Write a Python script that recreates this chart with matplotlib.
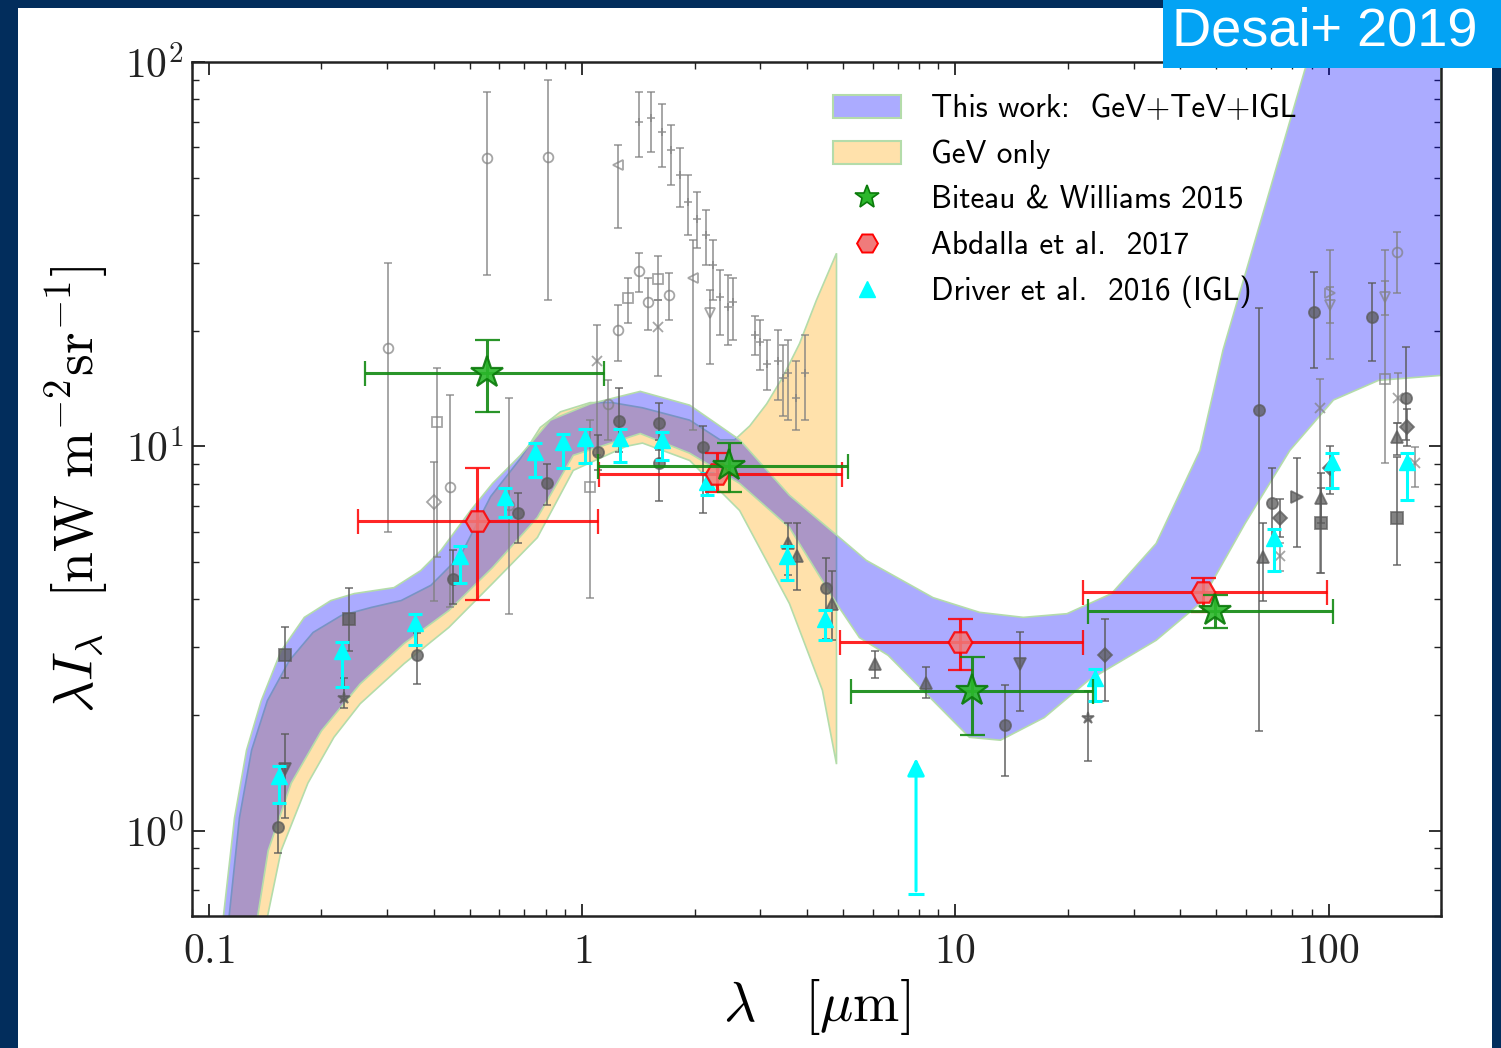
import numpy as np
import matplotlib

matplotlib.use("Agg")
import matplotlib.pyplot as plt
from matplotlib.patches import Patch, Rectangle
from matplotlib.lines import Line2D
from matplotlib.ticker import NullFormatter

plt.rcParams["mathtext.fontset"] = "cm"

# ---------------- model bands: lambda [um] vs lambda I_lambda [nW m^-2 sr^-1]
# this work (GeV+TeV+IGL), upper / lower edge
band_hi_x = [0.107, 0.117, 0.126, 0.138, 0.156, 0.180, 0.212, 0.245, 0.313, 0.369, 0.418,
             0.502, 0.575, 0.683, 0.821, 1.05, 1.43, 1.94, 2.64, 3.59, 4.89, 5.77, 8.71,
             11.6, 15.2, 19.9, 26.2, 34.5, 45.2, 52.1, 68.3, 86.3, 99.4, 200]
band_hi_y = [0.5, 1.08, 1.62, 2.18, 2.94, 3.59, 3.97, 4.14, 4.29, 4.75, 5.36,
             6.81, 8.01, 9.48, 11.7, 12.9, 13.9, 12.8, 10.4, 7.46, 5.79, 5.05, 4.04,
             3.70, 3.59, 3.67, 4.14, 5.59, 9.76, 17.8, 43.7, 95.3, 145, 1000]
band_lo_x = [0.131, 0.144, 0.166, 0.200, 0.254, 0.333, 0.439, 0.575, 0.758, 0.946, 1.43,
             1.94, 2.64, 3.59, 4.80, 5.53, 6.60, 8.71, 10.9, 13.2, 17.3, 22.7, 34.5,
             45.2, 59.7, 78.7, 103, 136, 200]
band_lo_y = [0.5, 0.888, 1.33, 1.82, 2.41, 3.07, 3.74, 4.84, 6.53, 9.48, 10.8,
             9.6, 8.01, 6.15, 3.90, 3.18, 2.86, 2.18, 1.75, 1.72, 1.97, 2.46, 3.13,
             3.90, 6.30, 9.76, 13.2, 14.85, 15.3]

# GeV only, upper / lower edge
gev_hi_x = [0.111, 0.1206, 0.130, 0.1433, 0.164, 0.190, 0.226, 0.272, 0.327, 0.393, 0.472,
            0.568, 0.683, 0.772, 0.874, 1.05, 1.20, 1.45, 1.94, 2.34, 2.56, 2.81, 3.12,
            3.44, 3.82, 4.24, 4.80]
gev_hi_y = [0.5, 1.08, 1.62, 2.18, 2.77, 3.28, 3.63, 3.81, 3.97, 4.35, 5.20,
            7.4, 9.3, 11.2, 12.3, 13.0, 13.0, 12.6, 11.7, 10.4, 10.4, 11.3, 12.9,
            15.1, 18.5, 24.0, 31.8]
gev_lo_x = [0.138, 0.156, 0.184, 0.216, 0.254, 0.333, 0.439, 0.575, 0.758, 0.946, 1.31,
            1.45, 1.94, 2.64, 3.59, 4.40, 4.80]
gev_lo_y = [0.5, 0.888, 1.33, 1.75, 2.14, 2.72, 3.38, 4.40, 5.79, 8.66, 10.0,
            10.2, 9.19, 6.81, 3.90, 2.32, 1.49]

# ---------------- Biteau & Williams 2015
bw_x = [0.554, 2.47, 11.07, 49.6]
bw_xlo = [0.262, 1.10, 5.26, 22.6]
bw_xhi = [1.145, 5.16, 23.3, 102.5]
bw_y = [15.5, 8.87, 2.31, 3.74]
bw_ylo = [12.3, 7.59, 1.77, 3.36]
bw_yhi = [18.9, 10.2, 2.83, 4.10]

# ---------------- Abdalla et al. 2017
ab_x = [0.521, 2.29, 10.3, 46.1]
ab_xlo = [0.251, 1.11, 4.89, 22.0]
ab_xhi = [1.10, 4.98, 22.0, 99.1]
ab_y = [6.38, 8.45, 3.09, 4.17]
ab_ylo = [3.99, 7.6, 2.62, 3.70]
ab_yhi = [8.76, 9.6, 3.55, 4.55]

# ---------------- Driver et al. 2016 (IGL)
dr_x = [0.154, 0.227, 0.356, 0.469, 0.619, 0.749, 0.890, 1.02, 1.26, 1.64, 2.16,
        3.53, 4.46, 23.7, 71.3, 101.9, 162.6]
dr_y = [1.39, 2.94, 3.48, 5.20, 7.37, 9.65, 10.24, 10.49, 10.49, 10.36, 8.06,
        5.20, 3.56, 2.50, 5.79, 9.08, 9.08]
dr_ylo = [1.18, 2.36, 3.05, 4.40, 6.55, 8.30, 8.81, 9.03, 9.08, 9.19, 7.46,
          4.48, 3.13, 2.18, 4.75, 7.78, 7.24]
dr_yhi = [1.47, 3.1, 3.67, 5.5, 7.8, 10.2, 10.8, 11.1, 11.1, 10.9, 8.5,
          5.5, 3.75, 2.64, 6.1, 9.6, 9.6]
# lower limit at 8 um
drlim_x = 7.84
drlim_lo = 0.686
drlim_hi = 1.57

# ---------------- other measurements (grey), open symbols
oc_x = [0.3015, 0.554, 0.811, 0.4415, 0.638, 1.248, 1.420, 1.501, 1.708, 1.174, 152.9]
oc_y = [18.0, 56.2, 56.6, 7.82, 7.02, 20.05, 28.6, 23.7, 24.7, 12.9, 32.0]
oc_lo = [5.97, 27.9, 24.0, 3.81, 3.67, 16.7, 25.2, 20.05, 21.3, 10.36, 25.0]
oc_hi = [30.0, 83.5, 89.8, 13.6, 13.4, 23.3, 31.8, 27.5, 28.2, 14.85, 36.1]

os_x = [0.407, 1.327, 1.596, 1.05, 142.0]
os_y = [11.55, 24.3, 27.2, 7.82, 15.0]
os_lo = [5.14, 21.0, 24.0, 4.02, 9.03]
os_hi = [15.97, 27.4, 31.2, 11.7, 32.4]

od_x = [0.40]
od_y = [7.15]
od_lo = [3.97]
od_hi = [9.08]

ox_x = [1.596, 1.096, 94.6, 74.0, 170.8, 153.8]
ox_y = [20.4, 16.7, 12.6, 5.20, 9.03, 13.4]
ox_lo = [15.2, 9.48, 4.67, 4.75, 7.82, 11.5]
ox_hi = [24.0, 20.7, 15.0, 5.6, 9.94, 15.5]

ol_x = [1.248, 1.979]
ol_y = [53.9, 27.5]
ol_lo = [37.0, 11.0]
ol_hi = [60.8, 34.4]

ot_x = [2.197, 100.6, 142.0]
ot_y = [22.2, 23.3, 24.4]
ot_lo = [16.4, 21.0, 22.0]
ot_hi = [25.5, 26.0, 27.0]

orr_x = [100.6]
orr_y = [25.0]
orr_lo = [16.9]
orr_hi = [32.4]

op_x = [1.420, 1.529, 1.635, 1.729, 1.827, 1.919, 2.028, 2.144, 2.238, 2.336, 2.454, 2.531,
        2.90, 2.99, 3.12, 3.34, 3.44, 3.55, 3.75, 3.94]
op_y = [69.8, 71.5, 65.7, 59.0, 50.8, 43.2, 39.0, 35.4, 29.6, 24.4, 23.0, 23.7,
        19.5, 18.7, 16.4, 16.7, 15.1, 15.5, 13.4, 15.5]
op_lo = [56.6, 58.3, 53.3, 47.8, 41.9, 35.4, 32.8, 29.6, 24.0, 19.5, 18.3, 18.9,
         17.3, 15.8, 14.0, 13.2, 12.0, 11.7, 11.0, 11.7]
op_hi = [83.5, 83.5, 77.7, 68.5, 59.7, 50.8, 45.9, 41.2, 34.4, 28.7, 27.9, 27.4,
         21.9, 21.3, 18.9, 20.05, 18.3, 18.9, 16.7, 19.5]

# ---------------- other measurements (grey), filled symbols
fc_x = [0.153, 0.360, 0.450, 0.671, 0.806, 1.103, 1.256, 1.606, 1.606, 2.104, 4.51,
        13.6, 65.0, 70.4, 91.2, 130.3, 161.5]
fc_y = [1.02, 2.86, 4.53, 6.69, 8.01, 9.65, 11.65, 11.5, 9.03, 9.94, 4.29,
        1.88, 12.4, 7.11, 22.3, 21.7, 13.4]
fc_lo = [0.876, 2.41, 3.90, 5.6, 7.02, 8.66, 9.65, 9.76, 7.23, 6.69, 3.16,
         1.39, 1.82, 5.6, 16.0, 16.7, 10.4]
fc_hi = [1.18, 3.26, 5.36, 7.54, 9.0, 10.7, 14.2, 13.0, 10.4, 11.3, 5.11,
         2.39, 22.9, 8.76, 28.4, 26.6, 18.1]

fs_x = [0.160, 0.237, 95.2, 152.9]
fs_y = [2.87, 3.56, 6.30, 6.53]
fs_lo = [2.49, 2.94, 4.67, 4.90]
fs_hi = [3.38, 4.29, 7.8, 9.36]

fv_x = [0.160, 14.9]
fv_y = [1.45, 2.72]
fv_lo = [1.08, 2.05]
fv_hi = [1.79, 3.28]

fst_x = [0.230, 22.7]
fst_y = [2.22, 1.97]
fst_lo = [2.08, 1.52]
fst_hi = [2.50, 2.31]

ft_x = [3.55, 3.77, 4.68, 6.10, 8.34, 66.6, 95.2, 152.9]
ft_y = [5.59, 5.20, 3.90, 2.72, 2.43, 5.14, 7.32, 10.55]
ft_lo = [4.62, 4.22, 3.13, 2.49, 2.22, 3.97, 6.3, 9.5]
ft_hi = [6.30, 6.30, 4.75, 2.94, 2.66, 6.30, 8.5, 11.5]

fd_x = [25.1, 74.0, 100.6, 162.6]
fd_y = [2.86, 6.53, 8.76, 11.2]
fd_lo = [2.18, 5.8, 7.5, 10.0]
fd_hi = [3.56, 7.3, 10.0, 12.5]

fr_x = [82.1]
fr_y = [7.37]
fr_lo = [5.46]
fr_hi = [9.31]

legend_labels = [
    "This work:  GeV+TeV+IGL",
    "GeV only",
    "Biteau & Williams 2015",
    "Abdalla et al.  2017",
    "Driver et al.  2016 (IGL)",
]

NAVY = "#022d5c"
BLUE_FILL = (0.0, 0.0, 1.0, 0.33)
ORANGE_FILL = (1.0, 0.647, 0.0, 0.33)
EDGE = "#b4dcaa"


def yerr_of(y, lo, hi):
    y = np.asarray(y)
    return [y - np.asarray(lo), np.asarray(hi) - y]


def grey_points(ax, x, y, lo, hi, marker, filled, ms):
    if filled:
        c, a, mfc = "#5a5a5a", 0.75, "#5a5a5a"
    else:
        c, a, mfc = "#808080", 0.7, "none"
    ax.errorbar(x, y, yerr=yerr_of(y, lo, hi), fmt=marker, color=c, mfc=mfc, mec=c,
                ms=ms, mew=1.3, elinewidth=1.4, capsize=3, capthick=1.4, alpha=a, zorder=3)


fig = plt.figure(figsize=(15.01, 10.48), dpi=100)
fig.patch.set_facecolor(NAVY)
fig.add_artist(Rectangle((18 / 1501, 0), (1492 - 18) / 1501, 1 - 8 / 1048,
                         transform=fig.transFigure, facecolor="white", edgecolor="none", zorder=-10))

ax = fig.add_axes([192 / 1501, 1 - 916 / 1048, (1441 - 192) / 1501, (916 - 62) / 1048])
ax.set_xscale("log")
ax.set_yscale("log")

# bands
ax.fill(np.concatenate([gev_hi_x, gev_lo_x[::-1]]), np.concatenate([gev_hi_y, gev_lo_y[::-1]]),
        facecolor=ORANGE_FILL, edgecolor=EDGE, lw=1.2, zorder=1)
ax.fill(np.concatenate([band_hi_x, band_lo_x[::-1]]), np.concatenate([band_hi_y, band_lo_y[::-1]]),
        facecolor=BLUE_FILL, edgecolor=EDGE, lw=1.2, zorder=2)

# literature points
grey_points(ax, op_x, op_y, op_lo, op_hi, "+", False, 6)
grey_points(ax, oc_x, oc_y, oc_lo, oc_hi, "o", False, 7)
grey_points(ax, os_x, os_y, os_lo, os_hi, "s", False, 7)
grey_points(ax, od_x, od_y, od_lo, od_hi, "D", False, 7)
grey_points(ax, ox_x, ox_y, ox_lo, ox_hi, "x", False, 7)
grey_points(ax, ol_x, ol_y, ol_lo, ol_hi, "<", False, 7)
grey_points(ax, ot_x, ot_y, ot_lo, ot_hi, "v", False, 7)
grey_points(ax, orr_x, orr_y, orr_lo, orr_hi, ">", False, 7)
grey_points(ax, fc_x, fc_y, fc_lo, fc_hi, "o", True, 8)
grey_points(ax, fs_x, fs_y, fs_lo, fs_hi, "s", True, 8)
grey_points(ax, fv_x, fv_y, fv_lo, fv_hi, "v", True, 8)
grey_points(ax, fst_x, fst_y, fst_lo, fst_hi, "*", True, 9)
grey_points(ax, ft_x, ft_y, ft_lo, ft_hi, "^", True, 8)
grey_points(ax, fd_x, fd_y, fd_lo, fd_hi, "D", True, 7)
grey_points(ax, fr_x, fr_y, fr_lo, fr_hi, ">", True, 8)

# Driver et al. 2016
ax.errorbar(dr_x, dr_y, yerr=yerr_of(dr_y, dr_ylo, dr_yhi), fmt="^", color="cyan",
            ms=12, elinewidth=2.2, capsize=5, capthick=2.2, zorder=4)
ax.annotate("", xy=(drlim_x, drlim_hi), xytext=(drlim_x, drlim_lo),
            arrowprops=dict(arrowstyle="-|>", color="cyan", lw=2.2, mutation_scale=26), zorder=4)
ax.plot([drlim_x], [drlim_lo], marker="_", ms=12, mew=2.2, color="cyan", zorder=4)

# Abdalla et al. 2017
ax.errorbar(ab_x, ab_y, xerr=yerr_of(ab_x, ab_xlo, ab_xhi), yerr=yerr_of(ab_y, ab_ylo, ab_yhi),
            fmt="H", ms=17, mfc="#f07b7b", mec="red", mew=1.6, ecolor="red",
            elinewidth=2.2, capsize=9, capthick=2.2, alpha=0.85, zorder=5)

# Biteau & Williams 2015
ax.errorbar(bw_x, bw_y, xerr=yerr_of(bw_x, bw_xlo, bw_xhi), yerr=yerr_of(bw_y, bw_ylo, bw_yhi),
            fmt="*", ms=24, mfc="#2cb82c", mec="#0a7a0a", mew=1.6, ecolor="#138a13",
            elinewidth=2.2, capsize=9, capthick=2.2, alpha=0.9, zorder=6)

ax.set_xlim(0.09, 200)
ax.set_ylim(0.6, 100)

ax.set_xticks([0.1, 1, 10, 100])
ax.set_xticklabels([r"$0.1$", r"$1$", r"$10$", r"$100$"])
ax.set_yticks([1, 10, 100])
ax.set_yticklabels([r"$10^0$", r"$10^1$", r"$10^2$"])
ax.xaxis.set_minor_formatter(NullFormatter())
ax.yaxis.set_minor_formatter(NullFormatter())
ax.tick_params(which="both", direction="in", top=True, right=True, colors="#222222")
ax.tick_params(which="major", length=9, width=1.3, labelsize=30)
ax.tick_params(which="minor", length=5, width=1.0)
ax.tick_params(axis="x", which="major", pad=10)
ax.tick_params(axis="y", which="major", pad=6)
for sp in ax.spines.values():
    sp.set_linewidth(1.8)
    sp.set_color("#222222")

ax.set_xlabel(r"$\lambda\quad[\mu\mathrm{m}]$", fontsize=40, labelpad=4)
ax.set_ylabel(r"$\lambda I_\lambda\ \ [\mathrm{nW\ m^{-2}sr^{-1}}]$", fontsize=40, labelpad=10)

handles = [
    Patch(facecolor=BLUE_FILL, edgecolor=EDGE, lw=1.5),
    Patch(facecolor=ORANGE_FILL, edgecolor=EDGE, lw=1.5),
    Line2D([], [], ls="none", marker="*", ms=18, mfc="#2cb82c", mec="#0a7a0a", mew=1.2),
    Line2D([], [], ls="none", marker="H", ms=15, mfc="#f07b7b", mec="red", mew=1.4),
    Line2D([], [], ls="none", marker="^", ms=12, color="cyan"),
]
leg = ax.legend(handles, legend_labels, loc="upper left", bbox_to_anchor=(0.513, 0.962),
                frameon=False, prop=dict(family="cmss10", size=22.5), borderaxespad=0, borderpad=0,
                handlelength=2.2, handleheight=0.75, handletextpad=0.95, labelspacing=0.52)
leg.set_zorder(7)

# tag in the corner
fig.add_artist(Rectangle((1163 / 1501, 1 - 68 / 1048), (1501 - 1163) / 1501, 68 / 1048,
                         transform=fig.transFigure, facecolor="#03a3f4", edgecolor="none", zorder=10))
fig.text(1172 / 1501, 1 - 46 / 1048, "Desai+ 2019", color="white", fontsize=39,
         family="Liberation Sans", ha="left", va="baseline", zorder=11)

fig.savefig("out.png", dpi=100, facecolor=fig.get_facecolor())
